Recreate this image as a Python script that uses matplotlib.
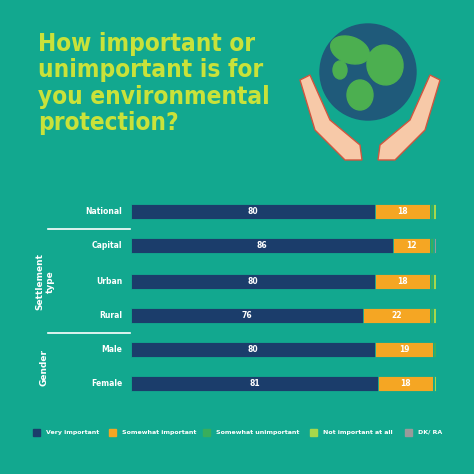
import matplotlib
matplotlib.use("Agg")
import matplotlib.pyplot as plt
from matplotlib.patches import Circle, Ellipse, Polygon

categories = ["National", "Capital", "Urban", "Rural", "Male", "Female"]
very = [80, 86, 80, 76, 80, 81]
somewhat = [18, 12, 18, 22, 19, 18]
somewhat_un = [1, 1, 1, 1, 1, 0.5]
not_at_all = [1, 0.5, 1, 1, 0.5, 0.5]
dk = [0, 0.5, 0, 0, 0, 0]
series_names = ["Very important", "Somewhat important", "Somewhat unimportant", "Not important at all", "DK/ RA"]
colors = ["#1b3d6b", "#f5a623", "#38ae5c", "#a8d84a", "#9a9a9a"]
BG = "#12a88f"

W = H = 474
fig = plt.figure(figsize=(4.74, 4.74), dpi=100, facecolor=BG)

def px(x, y):
    return x / W, 1 - y / H

fig.text(*px(38, 32), "How important or\nunimportant is for\nyou environmental\nprotection?", color="#c9e23a",
         fontsize=17.5, fontweight="bold", family="DejaVu Sans", stretch="condensed", va="top", ha="left",
         linespacing=1.12)

# illustration
ill = fig.add_axes([290 / W, 1 - 170 / H, 160 / W, 160 / H])
ill.set_xlim(0, 160); ill.set_ylim(160, 0); ill.axis("off")
ill.add_patch(Circle((78, 62), 48, color="#1f5a7a"))
for (cx, cy, w, h, a) in [(60, 40, 40, 26, 20), (95, 55, 36, 40, -10), (70, 85, 26, 30, 0), (50, 60, 14, 18, 0)]:
    ill.add_patch(Ellipse((cx, cy), w, h, angle=a, color="#4caf50"))
hand = "#f7c9a8"
ill.add_patch(Polygon([(10, 70), (20, 65), (40, 110), (70, 135), (72, 150), (55, 150), (25, 120)], color=hand, ec="#d0553f", lw=1))
ill.add_patch(Polygon([(150, 70), (140, 65), (120, 110), (90, 135), (88, 150), (105, 150), (135, 120)], color=hand, ec="#d0553f", lw=1))

ax = fig.add_axes([131 / W, 1 - 397 / H, 305 / W, 200 / H])
ax.set_facecolor(BG)
ax.set_xlim(0, 100)
ys = [212, 246, 282, 316, 350, 384]
ax.set_ylim(397, 197)
allseries = [very, somewhat, somewhat_un, not_at_all, dk]
for i, cat in enumerate(categories):
    left = 0
    for s, vals in enumerate(allseries):
        v = vals[i]
        if v > 0:
            ax.barh(ys[i], v, left=left, height=15, color=colors[s], edgecolor=BG, linewidth=0.6)
            if s < 2:
                ax.text(left + v / 2, ys[i], f"{v}", color="white", fontsize=5.5, fontweight="bold",
                        ha="center", va="center")
        left += v
    fig.text(*px(122, ys[i]), cat, color="white", fontsize=5.5, fontweight="bold", ha="right", va="center")
ax.axis("off")

for yy in [229, 333]:
    fig.add_artist(plt.Line2D([48 / W, 130 / W], [1 - yy / H] * 2, color="white", lw=1.2))
fig.text(*px(45, 282), "Settlement\ntype", color="white", fontsize=6.5, fontweight="bold", rotation=90,
         ha="center", va="center")
fig.text(*px(44, 367), "Gender", color="white", fontsize=6.5, fontweight="bold", rotation=90,
         ha="center", va="center")

lx = [33, 109, 203, 310, 405]
for x, n, c in zip(lx, series_names, colors):
    fig.add_artist(plt.Rectangle((x / W, 1 - 436 / H), 7 / W, 7 / H, color=c, transform=fig.transFigure))
    fig.text((x + 13) / W, 1 - 432.5 / H, n, color="white", fontsize=4.5, fontweight="bold", va="center")

fig.savefig("out.png", dpi=100, facecolor=BG)
